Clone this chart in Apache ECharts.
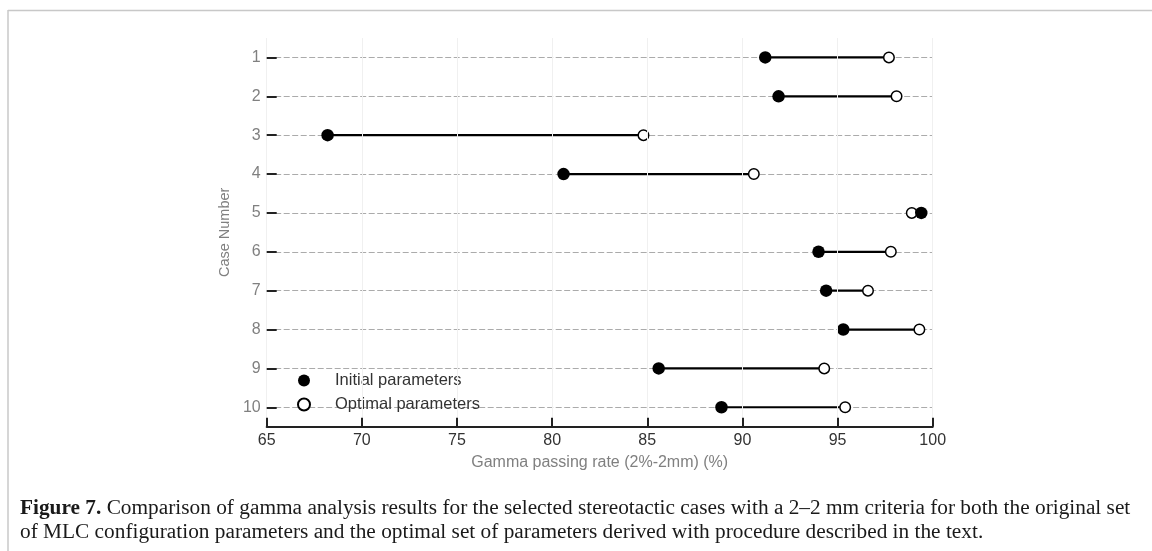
<!DOCTYPE html>
<html>
<head>
<meta charset="utf-8">
<script src="https://cdn.jsdelivr.net/npm/echarts@6/dist/echarts.min.js"></script>
<style>
html,body{margin:0;padding:0;background:#fff;}
#chart{width:1152px;height:551px;}
</style>
</head>
<body>
<div id="chart"></div>
<script>
// ---- data ----
const cases = ['1','2','3','4','5','6','7','8','9','10'];
const initialParams = [91.2, 91.9, 68.2, 80.6, 99.4, 94.0, 94.4, 95.3, 85.6, 88.9];
const optimalParams = [97.7, 98.1, 84.8, 90.6, 98.9, 97.8, 96.6, 99.3, 94.3, 95.4];
const xTicks = [65, 70, 75, 80, 85, 90, 95, 100];

const chart = echarts.init(document.getElementById('chart'), null, {renderer: 'canvas'});

const pairData = cases.map((c, i) => [initialParams[i], optimalParams[i], i]);
const initData = cases.map((c, i) => [initialParams[i], i]);
const optData = cases.map((c, i) => [optimalParams[i], i]);

const option = {
  backgroundColor: '#fff',
  animation: false,
  grid: {left: 266.7, right: 219.3, top: 38, bottom: 124.3, containLabel: false},
  xAxis: {
    type: 'value',
    z: 10,
    min: xTicks[0], max: xTicks[xTicks.length - 1], interval: 5,
    name: 'Gamma passing rate (2%-2mm) (%)',
    nameLocation: 'middle', nameGap: 28,
    nameTextStyle: {color: '#808080', fontSize: 16, fontFamily: 'Liberation Sans'},
    axisLine: {show: true, lineStyle: {color: '#222', width: 2}},
    axisTick: {show: true, inside: true, length: 9, lineStyle: {color: '#222', width: 2}},
    axisLabel: {color: '#333', fontSize: 16, fontFamily: 'Liberation Sans', margin: 6},
    splitLine: {show: true, lineStyle: {color: '#f0f0f0', width: 1}}
  },
  yAxis: {
    type: 'category',
    z: 10,
    data: cases,
    inverse: true,
    boundaryGap: true,
    name: 'Case Number',
    nameLocation: 'middle', nameGap: 23,
    nameTextStyle: {color: '#808080', fontSize: 14.5, fontFamily: 'Liberation Sans'},
    axisLine: {show: false},
    axisTick: {show: true, inside: true, alignWithLabel: true, length: 10, lineStyle: {color: '#222', width: 2}},
    axisLabel: {color: '#808080', fontSize: 16, fontFamily: 'Liberation Sans', margin: 6},
    splitLine: {show: false}
  },
  legend: {
    orient: 'vertical',
    left: 292, top: 367,
    itemWidth: 12, itemHeight: 12, itemGap: 7,
    textStyle: {color: '#333', fontSize: 16.5, fontFamily: 'Liberation Sans', padding: [0, 0, 0, 20]},
    data: ['Initial parameters', 'Optimal parameters']
  },
  series: [
    {
      type: 'scatter',
      name: 'gridlines',
      z: 1,
      silent: true,
      symbolSize: 0,
      itemStyle: {opacity: 0},
      data: optData,
      markLine: {
        silent: true, symbol: 'none', z: 1,
        label: {show: false},
        lineStyle: {color: '#ababab', width: 1, type: [6, 2.5]},
        data: cases.map((c, i) => ({yAxis: i}))
      }
    },
    {
      type: 'custom',
      name: 'links',
      z: 5,
      silent: true,
      data: pairData,
      encode: {x: [0, 1], y: 2},
      renderItem: function (params, api) {
        const p1 = api.coord([api.value(0), api.value(2)]);
        const p2 = api.coord([api.value(1), api.value(2)]);
        return {type: 'line', shape: {x1: p1[0], y1: p1[1], x2: p2[0], y2: p2[1]},
                style: {stroke: '#000', lineWidth: 2.2}};
      }
    },
    {
      type: 'scatter', name: 'Optimal parameters', z: 6,
      symbol: 'circle', symbolSize: 10.5,
      itemStyle: {color: '#fff', borderColor: '#000', borderWidth: 1.5, opacity: 1},
      data: optData
    },
    {
      type: 'scatter', name: 'Initial parameters', z: 7,
      symbol: 'circle', symbolSize: 12.5,
      itemStyle: {color: '#000', opacity: 1},
      data: initData
    }
  ],
  graphic: [
    {type: 'line', silent: true, shape: {x1: 8, y1: 10.5, x2: 1152, y2: 10.5}, style: {stroke: '#c8c8c8', lineWidth: 1.5}},
    {type: 'line', silent: true, shape: {x1: 8, y1: 10, x2: 8, y2: 551}, style: {stroke: '#c8c8c8', lineWidth: 1.5}},
    {
      type: 'text', x: 20, y: 497, scaleX: 1.04, silent: true,
      style: {
        text: '{b|Figure 7.} Comparison of gamma analysis results for the selected stereotactic cases with a 2\u20132 mm criteria for both the original set\nof MLC configuration parameters and the optimal set of parameters derived with procedure described in the text.',
        fontFamily: 'Liberation Serif', fontSize: 20.5, fill: '#1a1a1a', lineHeight: 24,
        rich: {b: {fontWeight: 'bold', fontFamily: 'Liberation Serif', fontSize: 20.5, fill: '#1a1a1a', lineHeight: 24}}
      }
    }
  ]
};
chart.setOption(option);
</script>
</body>
</html>
